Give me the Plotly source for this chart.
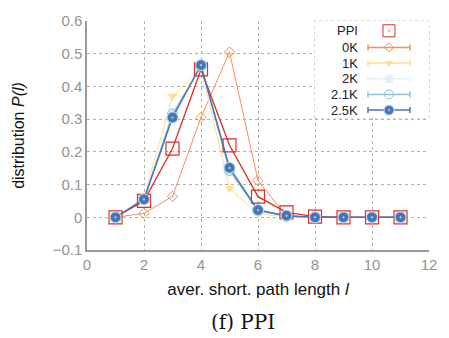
import plotly.graph_objects as go

# path length l
L = [1, 2, 3, 4, 5, 6, 7, 8, 9, 10, 11]

PPI = [0.0, 0.05, 0.21, 0.452, 0.22, 0.063, 0.015, 0.002, 0.0, 0.0, 0.0]
K0 = [0.0, 0.012, 0.064, 0.305, 0.505, 0.112, 0.004, 0.0, 0.0, 0.0, 0.0]
K1 = [0.0, 0.06, 0.37, 0.455, 0.088, 0.011, 0.001, 0.0, 0.0, 0.0, 0.0]
K2 = [0.0, 0.056, 0.32, 0.46, 0.14, 0.02, 0.003, 0.0, 0.0, 0.0, 0.0]
K21 = [0.0, 0.055, 0.315, 0.462, 0.143, 0.02, 0.003, 0.0, 0.0, 0.0, 0.0]
K25 = [0.0, 0.055, 0.305, 0.465, 0.151, 0.022, 0.005, 0.0, 0.0, 0.0, 0.0]

NAMES = ["PPI", "0K", "1K", "2K", "2.1K", "2.5K"]
SERIES = [PPI, K0, K1, K2, K21, K25]

RED = "#d73027"
STYLES = {
    "PPI": dict(color=RED, symbol="square-open", size=13, line=None),
    "0K": dict(color="#fc8d59", symbol="diamond-open-dot", size=8, line=1),
    "1K": dict(color="#fee090", symbol="triangle-down", size=9, line=1),
    "2K": dict(color="#e0f3f8", symbol="square", size=9, line=1),
    "2.1K": dict(color="#91bfdb", symbol="circle-open", size=10, line=1.2),
    "2.5K": dict(color="#4575b4", symbol="circle-dot", size=11, line=1.5),
}
# draw order: light ones first, PPI squares on top
ORDER = ["0K", "1K", "2K", "2.1K", "PPI", "2.5K"]

GRID = "#b0b0b0"
TICK = "#939393"

fig = go.Figure()

for name in ORDER:
    st = STYLES[name]
    y = SERIES[NAMES.index(name)]
    mk = dict(color=st["color"], symbol=st["symbol"], size=st["size"])
    if name == "2.5K":
        mk["line"] = dict(color="#b9d2ec", width=1.2)
    elif name == "PPI":
        mk["line"] = dict(color=RED, width=1.2)
    fig.add_trace(go.Scatter(
        x=L, y=y, mode="lines+markers", name=name,
        line=dict(color=st["color"], width=st["line"] or 1.3),
        marker=mk, showlegend=False,
    ))

# hand-made legend (labels left of symbols) on a pixel-like overlay axis
LEG_ROWS = [26, 43, 59, 75, 91, 107]
for name, ry in zip(NAMES, LEG_ROWS):
    st = STYLES[name]
    mk = dict(color=st["color"], symbol=st["symbol"], size=st["size"] - 1)
    if name == "2.5K":
        mk["line"] = dict(color="#b9d2ec", width=1.2)
    if name == "PPI":
        mk = dict(color=RED, symbol="square-open-dot", size=12, line=dict(color=RED, width=1))
        err = None
    else:
        err = dict(type="constant", value=21.5, color=st["color"], thickness=1.5, width=3)
    fig.add_trace(go.Scatter(
        x=[396], y=[ry], mode="markers", marker=mk, error_x=err,
        xaxis="x2", yaxis="y2", showlegend=False, hoverinfo="skip",
    ))
    fig.add_annotation(x=366, y=ry, xref="x2", yref="y2", text=name,
                       showarrow=False, xanchor="right",
                       font=dict(size=13, color="#222"))

LEG_BOTTOM = (250 - 115) / 234
fig.add_shape(type="rect", xref="paper", yref="paper",
              x0=0.666, x1=1, y0=LEG_BOTTOM, y1=1,
              fillcolor="white", line=dict(color=GRID, width=1, dash="dot"),
              layer="between")

fig.add_annotation(x=(247 - 87) / 350, y=(250 - 324) / 234,
                   xref="paper", yref="paper",
                   text="(f) PPI", showarrow=False, yanchor="middle",
                   font=dict(family="DejaVu Serif, Liberation Serif, serif",
                             size=20, color="#111"))

fig.update_layout(
    width=449, height=338,
    paper_bgcolor="white", plot_bgcolor="white",
    font=dict(family="Liberation Sans, Arial, sans-serif", size=13, color="#111"),
    margin=dict(l=87, r=12, t=16, b=88),
    showlegend=False,
    xaxis=dict(range=[0, 12], dtick=2, showgrid=True, gridcolor=GRID,
               griddash="dot", gridwidth=1, zeroline=False,
               showline=True, linecolor="#999", linewidth=1.5,
               tickfont=dict(color=TICK, size=15), ticks="",
               title=dict(text="aver. short. path length <i>l</i>",
                          font=dict(size=17, color="#111"), standoff=11)),
    yaxis=dict(range=[-0.1, 0.6], dtick=0.1, showgrid=True, gridcolor=GRID,
               griddash="dot", gridwidth=1, zeroline=False,
               showline=True, linecolor="#999", linewidth=1.5,
               tickfont=dict(color=TICK, size=15), ticks="",
               tickformat="~g",
               title=dict(text="distribution <i>P(l)</i>",
                          font=dict(size=16, color="#111"), standoff=24)),
    xaxis2=dict(domain=[0.666, 1], range=[320, 437], visible=False,
                anchor="y2", fixedrange=True),
    yaxis2=dict(domain=[LEG_BOTTOM, 1], range=[115, 16], visible=False,
                anchor="x2", fixedrange=True),
)

fig.write_html("out.html", config={"displayModeBar": False},
               post_script="document.body.style.margin='0';")
